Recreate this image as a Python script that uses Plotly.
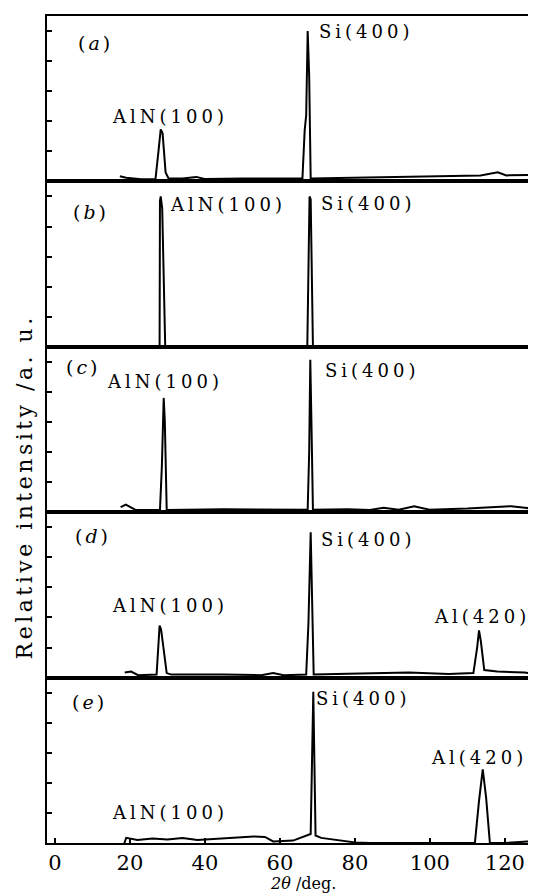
import plotly.graph_objects as go
from plotly.subplots import make_subplots

# ---------------- data ----------------
two_theta_ticks = [0, 20, 40, 60, 80, 100, 120]
y_ticks = [1, 2, 3, 4, 5]
panel_tags = ["a", "b", "c", "d", "e"]

a_x = [17.3, 19.0, 23.0, 26.8, 27.6, 28.2, 28.7, 29.5, 30.3, 34.0, 37.7, 39.9, 50.0, 60.0, 66.0, 66.6, 67.0, 67.4, 67.8, 68.2, 77.0, 96.0, 113.5, 118.1, 120.4, 128.3]
a_y = [0.17, 0.12, 0.07, 0.07, 1.0, 1.73, 1.6, 0.3, 0.1, 0.1, 0.15, 0.08, 0.1, 0.1, 0.1, 1.7, 2.2, 5.0, 3.5, 0.1, 0.12, 0.15, 0.2, 0.3, 0.2, 0.22]

b_x = [17.0, 27.9, 28.0, 28.2, 28.6, 29.4, 50.0, 67.3, 67.9, 68.2, 68.8, 128.3]
b_y = [0.02, 0.02, 4.85, 5.0, 4.6, 0.02, 0.02, 0.02, 5.0, 4.9, 0.02, 0.02]

c_x = [17.5, 18.9, 21.6, 28.0, 28.5, 29.0, 29.3, 29.8, 45.0, 60.0, 67.4, 67.8, 68.1, 68.4, 68.8, 78.0, 84.0, 87.6, 91.7, 95.8, 99.9, 110.0, 116.3, 121.7, 125.3, 128.3]
c_y = [0.17, 0.25, 0.07, 0.07, 1.5, 3.8, 3.0, 0.07, 0.1, 0.08, 0.08, 2.0, 5.07, 3.0, 0.08, 0.1, 0.07, 0.15, 0.08, 0.2, 0.08, 0.12, 0.15, 0.2, 0.15, 0.1]

d_x = [18.6, 20.3, 22.2, 27.1, 27.9, 28.3, 29.8, 31.0, 45.0, 55.0, 58.2, 61.0, 67.0, 67.6, 68.2, 68.5, 69.0, 75.0, 94.4, 105.0, 111.6, 112.6, 113.1, 113.6, 114.5, 118.0, 125.3, 128.3]
d_y = [0.17, 0.2, 0.08, 0.1, 1.73, 1.6, 0.15, 0.1, 0.1, 0.08, 0.15, 0.08, 0.1, 1.8, 4.83, 3.0, 0.1, 0.12, 0.17, 0.12, 0.15, 1.0, 1.57, 1.2, 0.25, 0.2, 0.17, 0.12]

e_x = [18.5, 19.0, 22.0, 26.0, 30.0, 34.0, 38.0, 42.0, 46.0, 50.0, 53.0, 56.0, 58.2, 63.5, 66.5, 68.2, 68.9, 69.5, 71.0, 74.0, 77.0, 80.0, 84.0, 100.0, 112.0, 113.1, 114.1, 115.0, 116.0, 120.0, 126.0, 128.3]
e_y = [0.0, 0.17, 0.1, 0.15, 0.12, 0.17, 0.1, 0.13, 0.15, 0.18, 0.22, 0.2, 0.05, 0.08, 0.22, 0.3, 5.03, 0.25, 0.17, 0.12, 0.07, 0.02, 0.0, 0.0, 0.0, 1.4, 2.45, 1.5, 0.0, 0.0, 0.05, 0.0]

series = [(a_x, a_y), (b_x, b_y), (c_x, c_y), (d_x, d_y), (e_x, e_y)]

# peak labels per panel: (text, x, y)
peak_labels = [
    [("AlN(100)", 30.7, 2.17), ("Si(400)", 83.2, 5.0)],
    [("AlN(100)", 46.1, 4.73), ("Si(400)", 83.5, 4.77)],
    [("AlN(100)", 29.3, 4.33), ("Si(400)", 84.8, 4.7)],
    [("AlN(100)", 30.7, 2.4), ("Si(400)", 83.5, 4.6), ("Al(420)", 113.9, 2.03)],
    [("AlN(100)", 30.7, 1.03), ("Si(400)", 82.4, 4.8), ("Al(420)", 113.1, 2.83)],
]
tag_pos = [(10.9, 4.6), (9.6, 4.47), (7.7, 4.83), (10.1, 4.7), (9.1, 4.7)]

# ---------------- figure ----------------
SERIF = "DejaVu Serif"
fig = make_subplots(rows=5, cols=1, shared_xaxes=True, vertical_spacing=0)

for i, (xs, ys) in enumerate(series, start=1):
    fig.add_trace(go.Scatter(x=xs, y=ys, mode="lines",
                             line=dict(color="black", width=2),
                             showlegend=False, hoverinfo="skip"),
                  row=i, col=1)

annotations = []
for i in range(5):
    xr = "x" if i == 0 else f"x{i+1}"
    yr = "y" if i == 0 else f"y{i+1}"
    tx, ty = tag_pos[i]
    annotations.append(dict(
        x=tx, y=ty, xref=xr, yref=yr, showarrow=False,
        text=f'<span style="letter-spacing:3px">(<i>{panel_tags[i]}</i>)</span>',
        font=dict(family=SERIF, size=19, color="black"),
        xanchor="center", yanchor="middle"))
    for (t, lx, ly) in peak_labels[i]:
        annotations.append(dict(
            x=lx, y=ly, xref=xr, yref=yr, showarrow=False,
            text=f'<span style="letter-spacing:4px">{t}</span>',
            font=dict(family=SERIF, size=18, color="black"),
            xanchor="center", yanchor="middle"))

annotations.append(dict(
    x=-0.047, y=0.43, xref="paper", yref="paper", showarrow=False,
    text='<span style="letter-spacing:3.5px">Relative intensity /a. u.</span>',
    textangle=-90, font=dict(family=SERIF, size=22, color="black"),
    xanchor="center", yanchor="middle"))
annotations.append(dict(
    x=0.5235, y=-0.049, xref="paper", yref="paper", showarrow=False,
    text="<i>2θ</i> /deg.",
    font=dict(family=SERIF, size=16, color="black"),
    xanchor="center", yanchor="middle"))

# the page body has an 8px margin, so the figure is sized to land the plot
# area at the same pixels as the reference
fig.update_layout(
    width=528, height=886,
    margin=dict(l=39, r=0, t=8, b=51),
    paper_bgcolor="white", plot_bgcolor="white",
    annotations=annotations,
    showlegend=False,
)

for i in range(1, 6):
    fig.update_xaxes(range=[-2.13, 128.3], showline=True, mirror=True,
                     linecolor="black", linewidth=2, showgrid=False,
                     zeroline=False, ticks="", row=i, col=1)
    fig.update_yaxes(range=[0, 5.5], showline=True, mirror=False,
                     linecolor="black", linewidth=2, showgrid=False,
                     zeroline=False, ticks="inside", tickvals=y_ticks,
                     ticklen=5, tickwidth=1.5, tickcolor="black",
                     showticklabels=False, row=i, col=1)

fig.update_xaxes(ticks="inside", tickvals=two_theta_ticks, ticklen=5,
                 tickwidth=1.5, tickcolor="black", showticklabels=True,
                 tickfont=dict(family=SERIF, size=21, color="black"),
                 row=5, col=1)

fig.write_html("out.html")
